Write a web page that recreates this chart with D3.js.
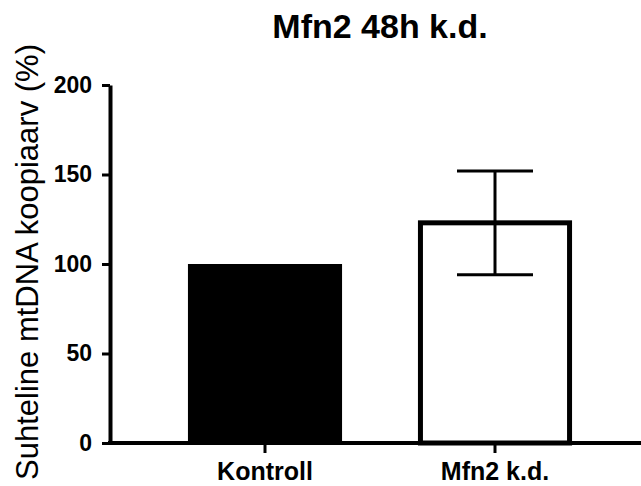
<!DOCTYPE html>
<html>
<head>
<meta charset="utf-8">
<script src="https://cdn.jsdelivr.net/npm/d3@7"></script>
<style>
  html, body { margin: 0; padding: 0; background: #fff; }
  svg { display: block; }
  text { font-family: "Liberation Sans", Arial, sans-serif; fill: #000; }
</style>
</head>
<body>
<svg id="chart" width="641" height="486"></svg>
<script>
const categories = ["Kontroll", "Mfn2 k.d."];
const means = [100, 123];
const errors = [0, 29];
const fills = ["#000000", "#ffffff"];
const yTicks = [0, 50, 100, 150, 200];
const title = "Mfn2 48h k.d.";
const yLabel = "Suhteline mtDNA koopiaarv (%)";

const svg = d3.select("#chart");

const x = d3.scaleBand().domain(categories).range([150, 610]).paddingInner(0.33).paddingOuter(0.165);
const y = d3.scaleLinear().domain([0, 200]).range([443, 85]);

// Title
svg.append("text").attr("x", 380).attr("y", 38).attr("text-anchor", "middle")
  .attr("font-size", 34).attr("font-weight", "bold").text(title);

// Y label
svg.append("text").attr("transform", "translate(38,262) rotate(-90)")
  .attr("text-anchor", "middle").attr("font-size", 31).text(yLabel);

// Bars
const data = categories.map((c, i) => ({c, m: means[i], e: errors[i], f: fills[i]}));
svg.selectAll("rect.bar").data(data).enter().append("rect")
  .attr("class", "bar")
  .attr("x", d => d.f === "#000000" ? x(d.c) : x(d.c) + 2.5)
  .attr("width", d => d.f === "#000000" ? x.bandwidth() : x.bandwidth() - 5)
  .attr("y", d => y(d.m))
  .attr("height", d => y(0) - y(d.m))
  .attr("fill", d => d.f)
  .attr("stroke", d => d.f === "#000000" ? "none" : "#000")
  .attr("stroke-width", 5);

// Error bars
const eb = data.filter(d => d.e > 0);
const capW = 76;
eb.forEach(d => {
  const cx = x(d.c) + x.bandwidth() / 2;
  const g = svg.append("g").attr("stroke", "#000").attr("stroke-width", 3);
  g.append("line").attr("x1", cx).attr("x2", cx).attr("y1", y(d.m + d.e)).attr("y2", y(d.m - d.e));
  g.append("line").attr("x1", cx - capW/2).attr("x2", cx + capW/2).attr("y1", y(d.m + d.e)).attr("y2", y(d.m + d.e));
  g.append("line").attr("x1", cx - capW/2).attr("x2", cx + capW/2).attr("y1", y(d.m - d.e)).attr("y2", y(d.m - d.e));
});

// Y axis
const yAxis = d3.axisLeft(y).tickValues(yTicks).tickSize(8).tickPadding(10).tickSizeOuter(0);
const gy = svg.append("g").attr("transform", "translate(110,0)").call(yAxis);
gy.select(".domain").attr("stroke-width", 4).attr("stroke", "#000");
gy.selectAll(".tick line").attr("stroke-width", 3).attr("stroke", "#000");
gy.selectAll(".tick text").attr("font-size", 23).attr("font-weight", "bold")
  .attr("font-family", "Liberation Sans, Arial, sans-serif").attr("fill", "#000");

// X axis
const xAxis = d3.axisBottom(x).tickSize(10).tickPadding(9).tickSizeOuter(0);
const gx = svg.append("g").attr("transform", "translate(0,443)").call(xAxis);
gx.select(".domain").attr("d", "M108,0H641").attr("stroke-width", 4).attr("stroke", "#000");
gx.selectAll(".tick line").attr("stroke-width", 3).attr("stroke", "#000");
gx.selectAll(".tick text").attr("font-size", 25).attr("font-weight", "bold")
  .attr("font-family", "Liberation Sans, Arial, sans-serif").attr("fill", "#000");
</script>
</body>
</html>
